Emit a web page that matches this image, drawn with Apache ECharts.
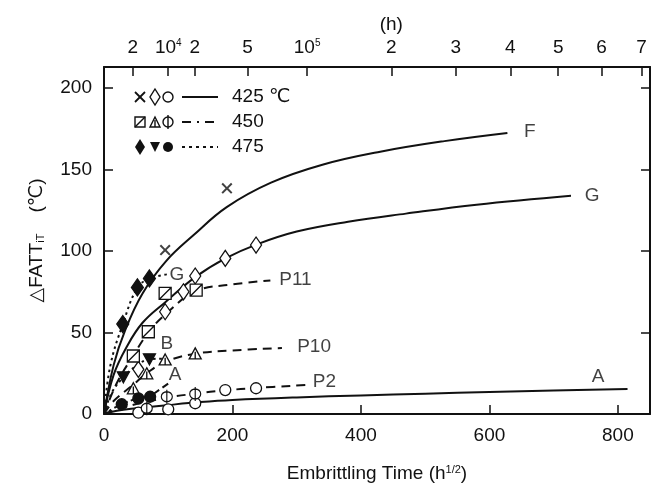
<!DOCTYPE html>
<html>
<head>
<meta charset="utf-8">
<script src="https://cdn.jsdelivr.net/npm/echarts@6/dist/echarts.min.js"></script>
<style>
  html, body { margin: 0; padding: 0; background: #fff; }
  #chart { width: 660px; height: 495px; }
</style>
</head>
<body>
<div id="chart"></div>
<script>
// ---- Embrittling time axis (h^1/2) and upper hours scale ----
const xTickValues = [0, 200, 400, 600, 800];
const yTickValues = [0, 50, 100, 150, 200];
const topHours = [2e3, 1e4, 2e4, 5e4, 1e5, 2e5, 3e5, 4e5, 5e5, 6e5, 7e5];
const topLabels = ['2', '10{s|4}', '2', '5', '10{s|5}', '{h|(h)}\n2', '3', '4', '5', '6', '7'];

// ---- Fitted curves, 425 °C (solid) ----
const curveF425 = [[0,0],[15,30],[33,51.5],[60,74],[97,94],[140,110],[191,127],[260,142],[340,153],[430,161],[530,167.5],[628,172.5]];
const curveG425 = [[0,0],[15,24],[35,41],[60,56],[95,68.5],[142,84],[189,95.5],[237,104],[300,112],[380,118],[470,123],[580,128.5],[727,134]];
const curveA425 = [[0,0],[20,2],[50,3.5],[100,5.5],[150,7.3],[200,8.6],[300,10.2],[400,11.4],[500,12.5],[600,13.5],[700,14.4],[815,15.3]];

// ---- Fitted curves, 450 °C (dashed) ----
const curveP11 = [[0,0],[20,19],[45.7,36],[69,50],[95,61],[143.5,75.5],[200,79.5],[259,82]];
const curveP10 = [[0,0],[15,8],[45.7,18],[66.6,25],[95.2,32],[142,37],[200,39],[277,40.5]];
const curveP2  = [[0,0],[30,4],[66.6,7.5],[97.8,10],[142,12.5],[188.8,14.5],[236.7,16],[316,17.8]];

// ---- Fitted curves, 475 °C (dotted) ----
const curveG475 = [[0,0],[10,30],[29.2,55],[52,77.5],[70.7,83],[103,86]];
const curveB475 = [[0,0],[12,13],[30.1,22.5],[50,29.5],[70.7,33.6],[95,34]];
const curveA475 = [[0,0],[27.6,6],[53.5,9.6],[71.8,10.6]];
const leaderA475 = [[77,12.3],[100.3,18.8]];

// ---- Measured points ----
const cross425   = [[95.2,100.6],[191.4,138.5]];
const diamond425 = [[53.5,27.4],[95.2,62.8],[123.7,75],[142,84.7],[188.8,95.5],[236.7,103.7]];
const circle425  = [[53.5,0.8],[100,2.9],[142,6.6],[188.8,14.7],[236.7,15.8]];
const square450  = [[45.7,35.6],[69,50.5],[95.2,74],[143.5,76]];
const tri450     = [[45.7,15.8],[66.6,25],[95.2,33.5],[142,37.2]];
const phi450     = [[66.6,3.5],[97.8,10.6],[142,12.3]];
const diamond475 = [[29.2,55.2],[52,77.7],[70.7,83.2]];
const tridown475 = [[30.1,22.5],[70.7,33.6]];
const dot475     = [[27.6,6],[53.5,9.6],[71.8,10.6]];

// ---- Curve names ----
const curveNames = ['F', 'G', 'A', 'P11', 'P10', 'P2', 'G', 'B', 'A'];
const curveNamePos = [[663,173],[760,133.7],[769,22.7],[298,82.6],[327,41.3],[343,19.8],[113.4,85.3],[97.8,43],[110.8,24]];

const FONT = "'Liberation Sans', 'DejaVu Sans', Arial, sans-serif";
const INK = '#111';
const topTickPos = topHours.map(h => Math.sqrt(h));

function lineSeries(data, type) {
  return {
    type: 'line', data: data, showSymbol: false, symbol: 'none',
    smooth: 0.4, silent: true, z: 3,
    lineStyle: { color: INK, width: 2, type: type, cap: 'butt' }
  };
}
function pointSeries(data, symbol, size, fill, extra) {
  return Object.assign({
    type: 'scatter', data: data, symbol: symbol, symbolSize: size, z: 5, silent: true,
    itemStyle: { color: fill, borderColor: INK, borderWidth: 1.3, opacity: 1 }
  }, extra || {});
}

const SYM_CROSS = 'path://M0,1.3L1.3,0L5,3.7L8.7,0L10,1.3L6.3,5L10,8.7L8.7,10L5,6.3L1.3,10L0,8.7L3.7,5Z';
const SYM_SQSLASH = 'path://M0,0H10V10H0ZM0,10L10,0';
const SYM_TRIBAR = 'path://M5,0L10,10L0,10ZM5,3.5L5,10';
const SYM_PHI = 'path://M5,2A5,5,0,1,1,4.99,2ZM5,0L5,14';

const chart = echarts.init(document.getElementById('chart'), null, { renderer: 'canvas' });

const labelStyle = { color: INK, fontSize: 19, fontFamily: FONT };
const frameLine = { show: true, onZero: false, lineStyle: { color: INK, width: 2 } };
const tickStyle = { color: INK, width: 1.5 };

const option = {
  backgroundColor: '#fff',
  animation: false,
  grid: { left: 104, right: 10, top: 67, bottom: 81 },
  xAxis: [{
    type: 'value', position: 'bottom', min: 0, max: 850, interval: 200,
    name: 'Embrittling Time (h{s|1/2})', nameLocation: 'middle', nameGap: 50,
    nameTextStyle: { color: INK, fontSize: 19, fontFamily: FONT,
      rich: { s: { fontSize: 11, verticalAlign: 'top', fontFamily: FONT, color: INK } } },
    axisLine: frameLine,
    axisTick: { show: true, inside: true, length: 9, lineStyle: tickStyle, customValues: xTickValues },
    axisLabel: { color: INK, fontSize: 19, fontFamily: FONT, margin: 12, customValues: xTickValues },
    splitLine: { show: false }
  }, {
    type: 'value', position: 'top', min: 0, max: 850,
    axisLine: frameLine,
    axisTick: { show: true, inside: true, length: 9, lineStyle: tickStyle, customValues: topTickPos },
    axisLabel: {
      color: INK, fontSize: 19, fontFamily: FONT, margin: 10,
      customValues: topTickPos,
      formatter: function (v) {
        let best = 0;
        topTickPos.forEach((p, i) => { if (Math.abs(p - v) < Math.abs(topTickPos[best] - v)) best = i; });
        return topLabels[best];
      },
      rich: {
        s: { fontSize: 10, verticalAlign: 'top', fontFamily: FONT, color: INK },
        h: { fontSize: 19, fontFamily: FONT, color: INK, lineHeight: 27 }
      }
    },
    splitLine: { show: false }
  }],
  yAxis: [{
    type: 'value', position: 'left', min: 0, max: 213, interval: 50,
    name: '△FATT{sub|iT}    (℃)', nameLocation: 'middle', nameRotate: 90, nameGap: 58,
    nameTextStyle: { color: INK, fontSize: 19, fontFamily: FONT,
      rich: { sub: { fontSize: 11, verticalAlign: 'bottom', fontFamily: FONT, color: INK } } },
    axisLine: frameLine,
    axisTick: { show: true, inside: true, length: 9, lineStyle: tickStyle, customValues: yTickValues },
    axisLabel: { color: INK, fontSize: 19, fontFamily: FONT, margin: 12, customValues: yTickValues },
    splitLine: { show: false }
  }, {
    type: 'value', position: 'right', min: 0, max: 213, interval: 50,
    axisLine: frameLine,
    axisTick: { show: true, inside: true, length: 9, lineStyle: tickStyle, customValues: yTickValues },
    axisLabel: { show: false },
    splitLine: { show: false }
  }],
  series: [
    lineSeries(curveF425, 'solid'),
    lineSeries(curveG425, 'solid'),
    lineSeries(curveA425, 'solid'),
    lineSeries(curveP11, [9, 6]),
    lineSeries(curveP10, [9, 6]),
    lineSeries(curveP2, [9, 6]),
    lineSeries(curveG475, [2.5, 3.5]),
    lineSeries(curveB475, [2.5, 3.5]),
    lineSeries(curveA475, [2.5, 3.5]),
    Object.assign(lineSeries(leaderA475, [7, 4]), { smooth: false }),

    pointSeries(cross425, SYM_CROSS, 11, INK, { itemStyle: { color: INK, borderWidth: 0 } }),
    pointSeries(diamond425, 'diamond', [11, 16], '#fff'),
    pointSeries(circle425, 'circle', 11, '#fff'),
    pointSeries(square450, SYM_SQSLASH, 12, '#fff'),
    pointSeries(tri450, SYM_TRIBAR, [12, 11], '#fff'),
    pointSeries(phi450, SYM_PHI, [11, 14], '#fff'),
    pointSeries(diamond475, 'diamond', [12, 17], INK),
    pointSeries(tridown475, 'triangle', [12, 11], INK, { symbolRotate: 180 }),
    pointSeries(dot475, 'circle', 11, INK),

    {
      type: 'scatter', silent: true, z: 6, symbolSize: 0,
      data: curveNames.map((n, i) => ({ name: n, value: curveNamePos[i] })),
      label: Object.assign({ show: true, position: 'inside', formatter: '{b}' }, labelStyle)
    }
  ],
  graphic: [
    // temperature key: 425 ℃
    { type: 'line', silent: true, shape: { x1: 135, y1: 92, x2: 145, y2: 102 }, style: { stroke: INK, lineWidth: 1.8 } },
    { type: 'line', silent: true, shape: { x1: 145, y1: 92, x2: 135, y2: 102 }, style: { stroke: INK, lineWidth: 1.8 } },
    { type: 'polygon', silent: true, shape: { points: [[155,89],[160,97],[155,105],[150,97]] }, style: { fill: '#fff', stroke: INK, lineWidth: 1.4 } },
    { type: 'circle', silent: true, shape: { cx: 168, cy: 97, r: 5 }, style: { fill: '#fff', stroke: INK, lineWidth: 1.4 } },
    { type: 'line', silent: true, shape: { x1: 182, y1: 97, x2: 218, y2: 97 }, style: { stroke: INK, lineWidth: 1.8 } },
    { type: 'text', silent: true, x: 232, y: 97, style: { text: '425 ℃', fill: INK, font: '19px ' + FONT, verticalAlign: 'middle' } },
    // 450
    { type: 'rect', silent: true, shape: { x: 135, y: 117, width: 10, height: 10 }, style: { fill: '#fff', stroke: INK, lineWidth: 1.4 } },
    { type: 'line', silent: true, shape: { x1: 135, y1: 127, x2: 145, y2: 117 }, style: { stroke: INK, lineWidth: 1.4 } },
    { type: 'polygon', silent: true, shape: { points: [[155,117],[160,127],[150,127]] }, style: { fill: '#fff', stroke: INK, lineWidth: 1.4 } },
    { type: 'line', silent: true, shape: { x1: 155, y1: 120, x2: 155, y2: 127 }, style: { stroke: INK, lineWidth: 1.4 } },
    { type: 'circle', silent: true, shape: { cx: 168, cy: 122, r: 5 }, style: { fill: '#fff', stroke: INK, lineWidth: 1.4 } },
    { type: 'line', silent: true, shape: { x1: 168, y1: 115, x2: 168, y2: 129 }, style: { stroke: INK, lineWidth: 1.4 } },
    { type: 'line', silent: true, shape: { x1: 182, y1: 122, x2: 218, y2: 122 }, style: { stroke: INK, lineWidth: 1.8, lineDash: [9, 6, 2, 6] } },
    { type: 'text', silent: true, x: 232, y: 122, style: { text: '450', fill: INK, font: '19px ' + FONT, verticalAlign: 'middle' } },
    // 475
    { type: 'polygon', silent: true, shape: { points: [[140,139],[145,147],[140,155],[135,147]] }, style: { fill: INK } },
    { type: 'polygon', silent: true, shape: { points: [[150,142],[160,142],[155,152]] }, style: { fill: INK } },
    { type: 'circle', silent: true, shape: { cx: 168, cy: 147, r: 5 }, style: { fill: INK } },
    { type: 'line', silent: true, shape: { x1: 182, y1: 147, x2: 218, y2: 147 }, style: { stroke: INK, lineWidth: 1.8, lineDash: [3, 4] } },
    { type: 'text', silent: true, x: 232, y: 147, style: { text: '475', fill: INK, font: '19px ' + FONT, verticalAlign: 'middle' } }
  ]
};

chart.setOption(option);
</script>
</body>
</html>
